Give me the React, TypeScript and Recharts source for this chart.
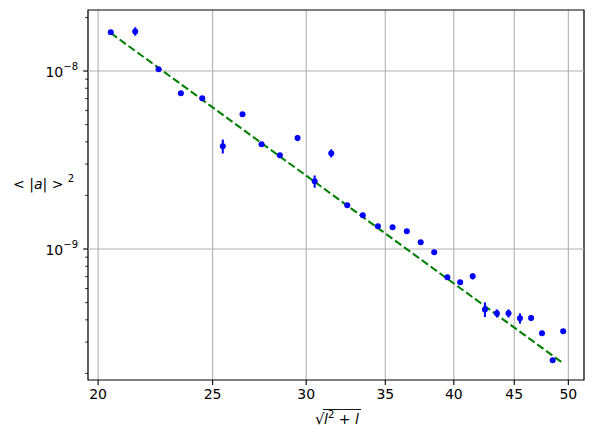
import React from "react";
import {
  ComposedChart,
  Scatter,
  Line,
  XAxis,
  YAxis,
  CartesianGrid,
  ReferenceLine,
  ReferenceArea,
  ErrorBar,
} from "recharts";

// ---- data ----
const L_VALUES = [
  20.5, 21.5, 22.5, 23.5, 24.5, 25.5, 26.5, 27.5, 28.5, 29.5,
  30.5, 31.5, 32.5, 33.5, 34.5, 35.5, 36.5, 37.5, 38.5, 39.5,
  40.5, 41.5, 42.5, 43.5, 44.5, 45.5, 46.5, 47.5, 48.5, 49.5,
];
const A2_VALUES = [
  1.65e-8, 1.67e-8, 1.022e-8, 7.49e-9, 7.02e-9, 3.78e-9, 5.71e-9, 3.875e-9, 3.36e-9, 4.2e-9,
  2.4e-9, 3.45e-9, 1.76e-9, 1.546e-9, 1.341e-9, 1.324e-9, 1.257e-9, 1.09e-9, 9.58e-10, 6.93e-10,
  6.5e-10, 7.02e-10, 4.58e-10, 4.35e-10, 4.35e-10, 4.08e-10, 4.1e-10, 3.36e-10, 2.37e-10, 3.45e-10,
];
const A2_ERRORS = [
  0, 9e-10, 0, 0, 0, 3.4e-10, 0, 0, 0, 1.6e-10,
  1.9e-10, 1.8e-10, 0, 0, 0, 0, 0, 0, 0, 0,
  1.7e-11, 2.7e-11, 4.3e-11, 2.3e-11, 2.3e-11, 2.7e-11, 1.6e-11, 0, 0, 0,
];
const FIT_X = [20.5, 49.5];
const FIT_Y = [1.635e-8, 2.28e-10];

const X_TICKS = [20, 25, 30, 35, 40, 45, 50];
const Y_MAJOR = [1e-9, 1e-8];
const Y_MINOR = [
  2e-10, 3e-10, 4e-10, 5e-10, 6e-10, 7e-10, 8e-10, 9e-10,
  2e-9, 3e-9, 4e-9, 5e-9, 6e-9, 7e-9, 8e-9, 9e-9, 2e-8,
];

const X_DOMAIN = [19.61, 51.55];
const Y_DOMAIN = [1.837e-10, 2.202e-8];

const points = L_VALUES.map((x, i) => ({ x, y: A2_VALUES[i], err: A2_ERRORS[i] }));
const fit = FIT_X.map((x, i) => ({ x, y: FIT_Y[i] }));

const FONT = "DejaVu Sans";
const PLOT_LEFT = 88;

function YTick(props: any) {
  const { y, payload } = props;
  const v = payload.value;
  const major = Y_MAJOR.some((m) => Math.abs(m - v) / m < 1e-6);
  const exp = Math.round(Math.log10(v));
  return (
    <g>
      <line
        x1={PLOT_LEFT - (major ? 4.9 : 2.8)}
        x2={PLOT_LEFT}
        y1={y}
        y2={y}
        stroke="#000"
        strokeWidth={major ? 1.1 : 0.85}
      />
      {major && (
        <text
          x={PLOT_LEFT - 10}
          y={y + 6}
          textAnchor="end"
          fontFamily={FONT}
          fontSize={14}
          fill="#000"
        >
          10
          <tspan dy={-7} fontSize={10}>
            {"\u2212" + Math.abs(exp)}
          </tspan>
        </text>
      )}
    </g>
  );
}

function XLabel(props: any) {
  const vb = props.viewBox || { x: 88, width: 496, y: 380 };
  const cx = vb.x + vb.width / 2;
  const left = cx - 21;
  return (
    <g>
      <text x={left} y={424} fontFamily={FONT} fontSize={15} fill="#000">
        {"\u221A"}
      </text>
      <line x1={left + 8} x2={cx + 25} y1={409.5} y2={409.5} stroke="#000" strokeWidth={0.9} />
      <text x={left + 9} y={424} fontFamily={FONT} fontSize={14} fill="#000">
        <tspan fontStyle="italic">l</tspan>
        <tspan dy={-6} fontSize={10}>2</tspan>
        <tspan dy={6}>{" + "}</tspan>
        <tspan fontStyle="italic">l</tspan>
      </text>
    </g>
  );
}

function YLabel() {
  return (
    <text x={13} y={189} fontFamily={FONT} fontSize={14} fill="#000">
      {"< |"}
      <tspan fontStyle="italic">a</tspan>
      {"| > "}
      <tspan dy={-7} fontSize={10}>2</tspan>
    </text>
  );
}

const Dot = (props: any) => <circle cx={props.cx} cy={props.cy} r={3} fill="#0000ff" />;

export default function App() {
  return (
    <div style={{ position: "absolute", left: 0, top: 0, width: 594, height: 440, background: "#fff" }}>
      <ComposedChart
        width={594}
        height={440}
        margin={{ top: 10, right: 10, bottom: 0, left: 0 }}
      >
        <CartesianGrid horizontal={false} vertical stroke="#b0b0b0" strokeWidth={1.1} />
        <ReferenceLine y={Y_MAJOR[0]} stroke="#b0b0b0" strokeWidth={1.1} />
        <ReferenceLine y={Y_MAJOR[1]} stroke="#b0b0b0" strokeWidth={1.1} />
        <XAxis
          type="number"
          dataKey="x"
          scale="log"
          domain={X_DOMAIN}
          allowDataOverflow
          ticks={X_TICKS}
          interval={0}
          height={60}
          axisLine={false}
          tickLine={{ stroke: "#000", strokeWidth: 1.1 }}
          tickSize={4.9}
          tickMargin={4}
          tick={{ fill: "#000", fontSize: 14, fontFamily: FONT }}
          label={<XLabel />}
        />
        <YAxis
          type="number"
          dataKey="y"
          scale="log"
          domain={Y_DOMAIN}
          allowDataOverflow
          ticks={[...Y_MINOR, ...Y_MAJOR].sort((a, b) => a - b)}
          interval={0}
          width={88}
          axisLine={false}
          tickLine={false}
          tick={<YTick />}
          label={<YLabel />}
        />
        <Line
          data={fit}
          dataKey="y"
          stroke="#008000"
          strokeWidth={2.08}
          strokeDasharray="7.7 3.3"
          dot={false}
          activeDot={false}
          isAnimationActive={false}
        />
        <Scatter data={points} dataKey="y" shape={<Dot />} isAnimationActive={false}>
          <ErrorBar dataKey="err" direction="y" width={0} stroke="#0000ff" strokeWidth={2.08} />
        </Scatter>
        <ReferenceArea
          x1={X_DOMAIN[0]}
          x2={X_DOMAIN[1]}
          y1={Y_DOMAIN[0]}
          y2={Y_DOMAIN[1]}
          fill="none"
          fillOpacity={0}
          stroke="#000"
          strokeWidth={1.1}
          ifOverflow="visible"
        />
      </ComposedChart>
    </div>
  );
}
